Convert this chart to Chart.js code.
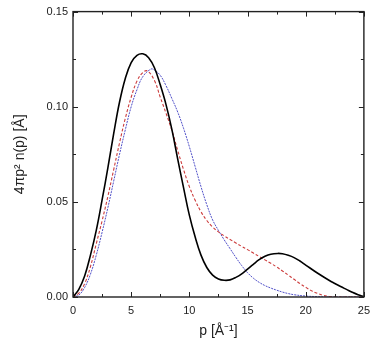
<!DOCTYPE html>
<html><head><meta charset="utf-8">
<script src="https://cdn.jsdelivr.net/npm/chart.js@4/dist/chart.umd.min.js"></script>
<style>html,body{margin:0;padding:0;background:#fff}#w{width:377px;height:348px}</style>
</head><body><div id="w"><canvas id="c"></canvas></div>
<script>
const pBlack = [0,0.5,1,1.5,2,2.5,3,3.5,4,4.5,5,5.5,6,6.5,7,7.5,8,8.5,9,9.5,10,10.5,11,11.5,12,12.5,13,13.5,14,14.5,15,15.5,16,16.5,17,17.6,18,18.5,19,19.5,20,21,22,22.5,23,23.5,24,24.5,25];
const black = [0,0.004,0.011,0.022,0.035,0.051,0.068,0.086,0.1025,0.115,0.1232,0.127,0.1278,0.1258,0.1205,0.1115,0.101,0.088,0.0725,0.0575,0.043,0.0315,0.022,0.0155,0.0115,0.0095,0.0088,0.009,0.0103,0.0122,0.0147,0.0172,0.0196,0.0214,0.0225,0.0229,0.0227,0.0219,0.0207,0.0189,0.0168,0.0126,0.0088,0.0071,0.0055,0.004,0.0025,0.0012,0.0002];
const pRed = [0,0.5,1,1.5,2,2.5,3,3.5,4,4.5,5,5.5,6,6.4,7,7.5,8,8.5,9,9.5,10,10.5,11,11.5,12,12.5,13,13.5,14,14.5,15,15.5,16,16.5,17,17.5,18,18.5,19,19.5,20,20.5,21,21.5,22,22.5,25];
const red = [0,0.002,0.007,0.016,0.028,0.040,0.053,0.067,0.081,0.094,0.105,0.1135,0.118,0.1188,0.1138,0.105,0.0965,0.0875,0.077,0.067,0.058,0.0508,0.0448,0.0402,0.0368,0.0342,0.0321,0.0302,0.0284,0.0266,0.0249,0.0231,0.0213,0.0195,0.0177,0.0158,0.0137,0.0115,0.0093,0.0071,0.0051,0.0033,0.0019,0.0009,0.0003,0,0];
const pBlue = [0,0.5,1,1.5,2,2.5,3,3.5,4,4.5,5,5.5,6,6.7,7,7.5,8,8.5,9,9.5,10,10.5,11,11.5,12,12.5,13,13.5,14,14.5,15,15.5,16,16.5,17,17.5,18,18.5,19,20,21,22,25];
const blue = [0,0.001,0.005,0.012,0.022,0.034,0.047,0.061,0.075,0.088,0.100,0.109,0.1158,0.1198,0.1193,0.1165,0.111,0.1043,0.0972,0.0887,0.079,0.0685,0.058,0.0485,0.0405,0.035,0.030,0.0254,0.0208,0.0165,0.0128,0.0099,0.0077,0.006,0.0047,0.0036,0.0026,0.0018,0.0012,0.0005,0.0002,0,0];
const xTicks = [0,5,10,15,20,25];
const yTicks = [0,0.05,0.10,0.15];

const toPts = (xs, ys) => xs.map((x,i)=>({x:x,y:ys[i]}));
const FONT = '"Liberation Sans", Arial, sans-serif';

const framePlugin = {
  id:'frame',
  afterDraw(chart){
    const {ctx, chartArea:a, scales:{x,y}} = chart;
    ctx.save();
    ctx.strokeStyle='#222'; ctx.lineWidth=1.4;
    ctx.strokeRect(a.left, a.top, a.right-a.left, a.bottom-a.top);
    ctx.lineWidth=1;
    for(let v=0; v<=25.001; v+=2.5){
      const px=Math.round(x.getPixelForValue(v))+0.5;
      const L = (Math.abs(v/5-Math.round(v/5))<1e-6)?5:3;
      ctx.beginPath();
      ctx.moveTo(px,a.bottom); ctx.lineTo(px,a.bottom-L);
      ctx.moveTo(px,a.top); ctx.lineTo(px,a.top+L);
      ctx.stroke();
    }
    for(let v=0; v<=0.15001; v+=0.025){
      const py=Math.round(y.getPixelForValue(v))+0.5;
      const L = (Math.abs(v/0.05-Math.round(v/0.05))<1e-6)?5:3;
      ctx.beginPath();
      ctx.moveTo(a.left,py); ctx.lineTo(a.left+L,py);
      ctx.moveTo(a.right,py); ctx.lineTo(a.right-L,py);
      ctx.stroke();
    }
    ctx.restore();
  }
};

new Chart(document.getElementById('c'), {
  type:'line',
  data:{datasets:[
    {data:toPts(pBlack,black), borderColor:'#000', borderWidth:1.6, pointRadius:0, tension:0.4},
    {data:toPts(pRed,red), borderColor:'#cc3b3b', borderWidth:1.1, borderDash:[3,2], pointRadius:0, tension:0.4},
    {data:toPts(pBlue,blue), borderColor:'#5050c8', borderWidth:1, borderDash:[2,1], pointRadius:0, tension:0.4}
  ]},
  options:{
    responsive:true, maintainAspectRatio:false, animation:false,
    layout:{padding:{top:10,right:13,left:0,bottom:0}},
    plugins:{legend:{display:false}, tooltip:{enabled:false}},
    scales:{
      x:{type:'linear', min:0, max:25,
        afterBuildTicks(s){ s.ticks = xTicks.map(v=>({value:v})); },
        afterFit(s){ s.height=51; },
        grid:{display:false, drawTicks:false, tickLength:0}, border:{display:false},
        ticks:{color:'#222', font:{family:FONT,size:11}, padding:7, maxRotation:0, callback:v=>String(v)},
        title:{display:true, text:'p [Å⁻¹]', color:'#222', font:{family:FONT,size:14}, padding:{top:0,bottom:8}}
      },
      y:{min:0, max:0.15,
        afterBuildTicks(s){ s.ticks = yTicks.map(v=>({value:v})); },
        afterFit(s){ s.width=73; },
        grid:{display:false, drawTicks:false, tickLength:0}, border:{display:false},
        ticks:{color:'#222', font:{family:FONT,size:11}, padding:5, callback:v=>Number(v).toFixed(2)},
        title:{display:true, text:'4πp² n(p) [Å]', color:'#222', font:{family:FONT,size:14}, padding:{top:12,bottom:0}}
      }
    }
  },
  plugins:[framePlugin]
});
</script></body></html>
